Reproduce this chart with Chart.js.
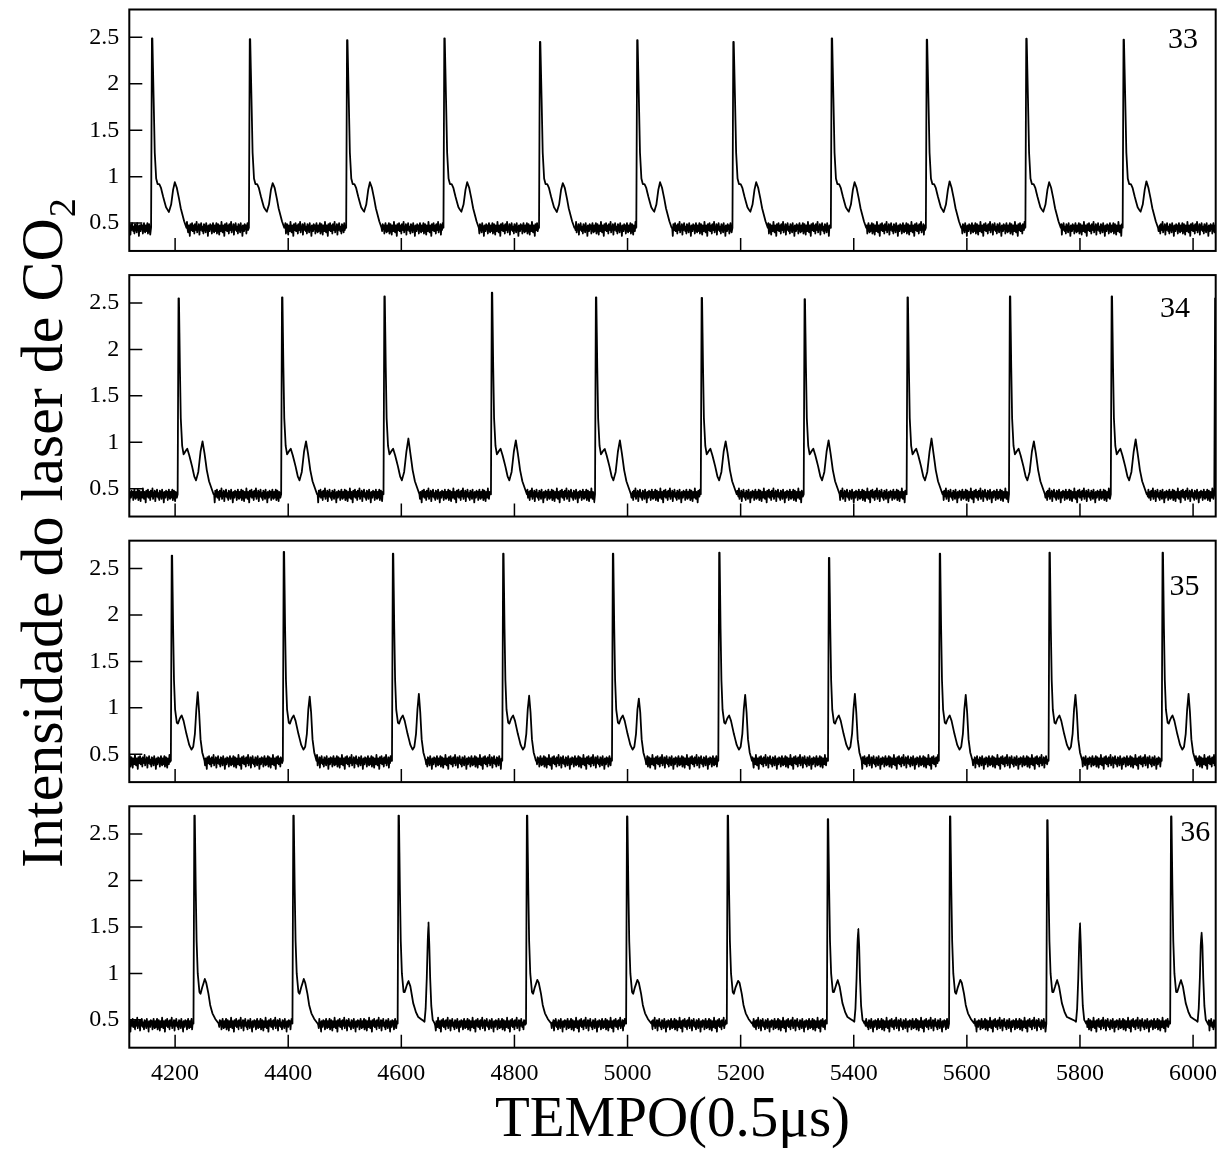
<!DOCTYPE html>
<html>
<head>
<meta charset="utf-8">
<title>Intensidade do laser de CO2</title>
<script src="https://cdn.jsdelivr.net/npm/chart.js@4.4.1/dist/chart.umd.min.js"></script>
<style>
  html, body { margin: 0; padding: 0; background: #fff; }
  #chart { display: block; }
</style>
</head>
<body>
<canvas id="chart" width="1222" height="1155"></canvas>
<script>
var serif = "'Liberation Serif', 'Times New Roman', serif";

// axis ranges (time in units of 0.5 us)
var xMin = 4119, xMax = 6040;
var yMin = 0.2, yMax = 2.8;
var xLabelStep = 200;
var yLabels = [0.5, 1, 1.5, 2, 2.5];
var panelNames = ['33', '34', '35', '36'];

// main spike times, spike heights and height of the second bump, read per panel
var peaks33 = [4159, 4332, 4504, 4676, 4845, 5017, 5187, 5361, 5529, 5705, 5877];
var height33 = [2.49, 2.48, 2.47, 2.49, 2.45, 2.47, 2.45, 2.49, 2.475, 2.485, 2.475];
var bump33 = [0.94, 0.93, 0.94, 0.94, 0.93, 0.94, 0.94, 0.94, 0.95, 0.94, 0.95];

var peaks34 = [4206, 4389, 4570, 4760, 4944, 5131, 5313, 5495, 5676, 5856, 6039];
var height34 = [2.55, 2.56, 2.57, 2.61, 2.56, 2.555, 2.54, 2.56, 2.57, 2.57, 2.55];
var bump34 = [1.01, 1.01, 1.04, 1.02, 1.02, 1.01, 1.02, 1.04, 1.01, 1.03, 1.0];

var peaks35 = [4194, 4392, 4585, 4780, 4974, 5162, 5356, 5552, 5746, 5946];
var height35 = [2.64, 2.68, 2.66, 2.66, 2.66, 2.67, 2.615, 2.66, 2.67, 2.67];
var bump35 = [1.17, 1.12, 1.15, 1.13, 1.10, 1.14, 1.15, 1.14, 1.14, 1.15];

var peaks36 = [4234, 4409, 4595, 4822, 4999, 5177, 5354, 5570, 5742, 5961];
var height36 = [2.70, 2.70, 2.70, 2.70, 2.69, 2.70, 2.66, 2.69, 2.65, 2.69];
var bump36 = [0.94, 0.94, 0.92, 0.93, 0.93, 0.92, 0.93, 0.93, 0.93, 0.93];
// the narrow secondary spikes in panel 36
var spikeTimes36 = [4648, 5408, 5800, 6015];
var spikeHeights36 = [1.55, 1.48, 1.54, 1.44];

// baseline levels
var base33 = 0.45, base34 = 0.44, base35 = 0.43, base36 = 0.46;

// pulse outlines: [offset from spike, level]; 'P' = spike top, 'B' = bump top
var shape33 = [[-1.5, 'base'], [0, 'P'], [0.8, 'P'], [3, 1.85], [5, 1.26],
  [7.5, 0.98], [10, 0.92], [13, 0.92], [16, 0.88], [20, 0.78], [25, 0.67], [30, 0.62], [34, 0.7],
  [37.5, 0.86], [40.5, 'B'], [44, 0.88], [48, 0.76], [51, 0.66], [54, 0.59], [57, 0.52], [61, 'base']];
var shape34 = [[-1.5, 'base'], [0, 'P'], [0.8, 'P'], [2.5, 1.8], [4, 1.26],
  [6.5, 0.96], [9, 0.87], [12, 0.9], [15.5, 0.93], [19, 0.86], [24, 0.74], [28, 0.63], [31, 0.59],
  [35, 0.68], [39, 0.9], [42.5, 'B'], [46, 0.88], [50, 0.7], [54, 0.58], [58, 0.51], [62, 'base']];
var shape35 = [[-1.5, 'base'], [0, 'P'], [0.8, 'P'], [2.5, 1.85], [4, 1.3],
  [6, 0.98], [9, 0.84], [11, 0.83], [14, 0.88], [17.5, 0.92], [21, 0.86], [26, 0.72], [31, 0.6],
  [35, 0.55], [38, 0.58], [41, 0.72], [43.5, 0.98], [46, 'B'], [48.5, 0.95], [51, 0.66], [54, 0.52],
  [58, 'base']];
var shape36 = [[-1.5, 'base'], [0, 'P'], [0.8, 'P'], [2.5, 1.9], [4, 1.35],
  [6, 1.0], [9, 0.8], [11, 0.78], [14, 0.85], [18.5, 'B'], [21, 0.9], [25, 0.78], [28, 0.66],
  [32, 0.57], [37, 0.51], [43, 'base']];
var shape36Head = [[-1.5, 'base'], [0, 'P'], [0.8, 'P'], [2.5, 1.9], [4, 1.35],
  [6, 1.0], [9, 0.8], [11, 0.8], [14, 0.86], [17.5, 'B'], [21, 0.86], [26, 0.68], [31, 0.58], [35, 0.53]];
var spikeShape = [[-9, 0.49], [-7, 0.48], [-5, 0.62], [-3, 0.95], [-1.5, 1.3], [0, 'P'], [1.5, 1.3],
  [3, 0.95], [5, 0.65], [7.5, 0.5], [11, 'base']];

// detector ripple on the flat parts (hand copied pattern)
var ripple = [0.02, -0.03, 0.01, 0.04, -0.05, 0.00, 0.03, -0.02, -0.06, 0.02,
  0.01, -0.03, 0.05, -0.01, -0.04, 0.02, 0.00, -0.07, 0.03, 0.01,
  -0.02, 0.04, -0.03, -0.01, 0.02, -0.05, 0.03, 0.00, -0.02, 0.05,
  -0.04, 0.01, -0.01, 0.03, -0.06, 0.02, -0.02, 0.04, 0.00, -0.03,
  0.01, -0.05, 0.03, 0.02, -0.01, -0.04, 0.04, -0.02, 0.01, -0.07,
  0.02, 0.00, -0.03, 0.03, -0.01, 0.02, -0.05, 0.01, 0.04, -0.02, -0.04];
var rippleGain = 1.25;

function level(v, peak, bump, base) {
  if (v === 'P') return peak;
  if (v === 'B') return bump;
  if (v === 'base') return base;
  return v;
}

function flat(t, o) {
  return {x: t, y: o.base + rippleGain * ripple[(t + o.shift) % ripple.length]};
}

function buildSeries(o) {
  var pts = [];
  var t = xMin - 1;
  o.peaks.forEach(function (p, i) {
    var outline = [];
    var spikeAt = null, spikeH = null;
    (o.spikeTimes || []).forEach(function (s, j) {
      if (s > p && s - p < 80) { spikeAt = s; spikeH = o.spikeHeights[j]; }
    });
    var tpl = spikeAt === null ? o.shape : o.headShape;
    tpl.forEach(function (pt) {
      outline.push({x: p + pt[0], y: level(pt[1], o.heights[i], o.bumps[i], o.base)});
    });
    if (spikeAt !== null) {
      spikeShape.forEach(function (pt) {
        outline.push({x: spikeAt + pt[0], y: level(pt[1], spikeH, spikeH, o.base)});
      });
    }
    var start = Math.floor(outline[0].x);
    for (; t < start; t++) pts.push(flat(t, o));
    outline.forEach(function (pt) { pts.push(pt); });
    t = Math.floor(outline[outline.length - 1].x) + 1;
  });
  for (; t <= xMax + 1; t++) pts.push(flat(t, o));
  return pts;
}

var series33 = buildSeries({peaks: peaks33, heights: height33, bumps: bump33, shape: shape33, base: base33, shift: 0});
var series34 = buildSeries({peaks: peaks34, heights: height34, bumps: bump34, shape: shape34, base: base34, shift: 17});
var series35 = buildSeries({peaks: peaks35, heights: height35, bumps: bump35, shape: shape35, base: base35, shift: 31});
var series36 = buildSeries({peaks: peaks36, heights: height36, bumps: bump36, shape: shape36, headShape: shape36Head,
  spikeTimes: spikeTimes36, spikeHeights: spikeHeights36, base: base36, shift: 44});

// a tiny tension keeps Chart.js off its pixel-column fast path, which notched the spikes
function trace(data, axis) {
  return {data: data, yAxisID: axis, borderColor: '#000', borderWidth: 1.8, borderJoinStyle: 'round',
    pointRadius: 0, fill: false, tension: 0.0001, parsing: false, normalized: true};
}

function noPad(s) {
  s.paddingTop = 0; s.paddingBottom = 0; s.paddingLeft = 0; s.paddingRight = 0;
}

function panelAxis(order) {
  return {
    type: 'linear', position: 'left', stack: 'panels', stackWeight: 10, weight: order,
    min: yMin, max: yMax,
    grid: {display: false, drawTicks: false},
    border: {display: false},
    ticks: {
      stepSize: 0.25, includeBounds: false, autoSkip: false, padding: 10, color: '#000',
      font: {family: serif, size: 24},
      callback: function (v) {
        for (var i = 0; i < yLabels.length; i++) {
          if (Math.abs(v - yLabels[i]) < 1e-6) return String(yLabels[i]);
        }
        return null;
      }
    },
    afterFit: function (s) { s.width = 129.3; noPad(s); }
  };
}

function gapAxis(order) {
  return {type: 'linear', position: 'left', stack: 'panels', stackWeight: 1, weight: order, display: false};
}

// frames, inward tick marks and panel numbers
var panelDecor = {
  id: 'panelDecor',
  afterDatasetsDraw: function (chart) {
    var ctx = chart.ctx;
    var area = chart.chartArea;
    var xs = chart.scales.x;
    var labelAt = [[5982, 2.39], [5968, 2.35], [5985, 2.22], [6004, 2.43]];
    ctx.save();
    ctx.strokeStyle = '#000';
    ctx.fillStyle = '#000';
    ['y33', 'y34', 'y35', 'y36'].forEach(function (id, k) {
      var ys = chart.scales[id];
      ctx.lineWidth = 1.5;
      ctx.beginPath();
      xs.ticks.forEach(function (tk) {
        var px = xs.getPixelForValue(tk.value);
        var len = tk.value % xLabelStep === 0 ? 13 : 6;
        ctx.moveTo(px, ys.bottom);
        ctx.lineTo(px, ys.bottom - len);
      });
      ys.ticks.forEach(function (tk) {
        var py = ys.getPixelForValue(tk.value);
        var major = Math.abs(tk.value * 2 - Math.round(tk.value * 2)) < 1e-6;
        ctx.moveTo(area.left, py);
        ctx.lineTo(area.left + (major ? 13 : 6), py);
      });
      ctx.stroke();
      ctx.lineWidth = 2;
      ctx.strokeRect(area.left, ys.top, area.right - area.left, ys.bottom - ys.top);
      ctx.font = '30px ' + serif;
      ctx.textAlign = 'center';
      ctx.textBaseline = 'alphabetic';
      ctx.fillText(panelNames[k], xs.getPixelForValue(labelAt[k][0]), ys.getPixelForValue(labelAt[k][1]));
    });
    ctx.restore();
  }
};

var yTitle = {
  id: 'yTitle',
  afterDraw: function (chart) {
    var ctx = chart.ctx;
    var mid = (chart.scales.y33.top + chart.scales.y36.bottom) / 2;
    var main = 'Intensidade do laser de CO', sub = '2';
    ctx.save();
    ctx.translate(62, mid + 5);
    ctx.rotate(-Math.PI / 2);
    ctx.fillStyle = '#000';
    ctx.textAlign = 'left';
    ctx.textBaseline = 'alphabetic';
    ctx.font = '60px ' + serif;
    var w1 = ctx.measureText(main).width;
    ctx.font = '38px ' + serif;
    var w2 = ctx.measureText(sub).width;
    var x0 = -(w1 + w2) / 2;
    ctx.font = '60px ' + serif;
    ctx.fillText(main, x0, 0);
    ctx.font = '38px ' + serif;
    ctx.fillText(sub, x0 + w1 + 1, 13);
    ctx.restore();
  }
};

new Chart(document.getElementById('chart'), {
  type: 'line',
  data: {
    datasets: [trace(series33, 'y33'), trace(series34, 'y34'), trace(series35, 'y35'), trace(series36, 'y36')]
  },
  options: {
    responsive: false,
    animation: false,
    events: [],
    layout: {padding: {left: 0, right: 6.3, top: 9.5, bottom: 0}},
    plugins: {legend: {display: false}, tooltip: {enabled: false}},
    scales: {
      x: {
        type: 'linear', position: 'bottom', min: xMin, max: xMax,
        grid: {display: false, drawTicks: false},
        border: {display: false},
        ticks: {
          stepSize: 50, includeBounds: false, autoSkip: false, maxRotation: 0, padding: 12,
          color: '#000', font: {family: serif, size: 24},
          callback: function (v) { return v % xLabelStep === 0 ? String(v) : null; }
        },
        title: {display: true, text: 'TEMPO(0.5\u03bcs)', color: '#000',
          font: {family: serif, size: 57}, padding: {top: 0, bottom: 0}},
        afterFit: function (s) { s.height = 107.3; noPad(s); }
      },
      y36: panelAxis(1),
      g3: gapAxis(2),
      y35: panelAxis(3),
      g2: gapAxis(4),
      y34: panelAxis(5),
      g1: gapAxis(6),
      y33: panelAxis(7)
    }
  },
  plugins: [panelDecor, yTitle]
});
</script>
</body>
</html>
